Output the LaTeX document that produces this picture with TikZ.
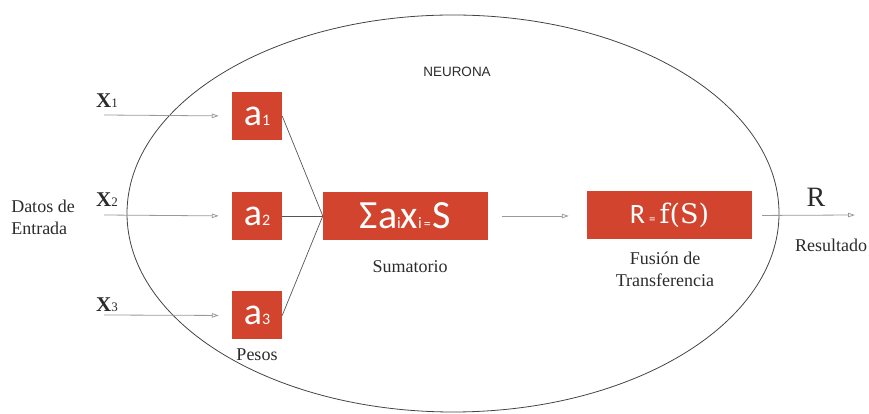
\documentclass[tikz,border=0pt]{standalone}
\usepackage{fontspec}
\setmainfont{Liberation Serif}
\newfontfamily\boxfont{Carlito}
\newfontfamily\labelsans{Liberation Sans}
\newfontfamily\fnfont{DejaVu Serif}
\usetikzlibrary{arrows.meta}

\definecolor{boxred}{HTML}{D2442E}
\definecolor{ink}{HTML}{2B2B2B}
\definecolor{wire}{HTML}{9A9A9A}
\definecolor{link}{HTML}{555555}
\definecolor{rim}{HTML}{444444}

\tikzset{
  redbox/.style={fill=boxred, text=white, inner sep=0pt, font=\boxfont},
  weightbox/.style={redbox, minimum width=50pt, minimum height=48pt},
  widebox/.style={redbox, minimum width=165pt, minimum height=48pt},
  caption/.style={text=ink, font=\fontsize{18}{22}\selectfont, inner sep=0pt},
  inarrow/.style={draw=wire, line width=0.8pt,
    -{Triangle[open, length=7pt, width=4.5pt]}},
  feed/.style={draw=link, line width=0.7pt}
}

\newcommand{\wsub}[1]{{\fontsize{16}{16}\selectfont #1}}
\newcommand{\xlab}[1]{{\bfseries\fontsize{21}{21}\selectfont X}{\fontsize{13}{13}\selectfont #1}}

\begin{document}
\begin{tikzpicture}[x=1pt, y=1pt]
  \useasboundingbox (0,0) rectangle (869,414);

  % cell body
  \draw[rim, line width=0.8pt] (453,200.5) ellipse [x radius=326, y radius=198.5];
  \node[text=ink, font=\labelsans\fontsize{13.5}{13.5}\selectfont] (neurona) at (457,342) {NEURONA};

  % weights
  \node[weightbox] (a1) at (257,298) {\fontsize{38}{38}\selectfont a\wsub{1}};
  \node[weightbox] (a2) at (257,198) {\fontsize{38}{38}\selectfont a\wsub{2}};
  \node[weightbox] (a3) at (257,98.5) {\fontsize{38}{38}\selectfont a\wsub{3}};
  \node[caption] (pesos) at (257,59) {Pesos};

  % summation and transfer
  \node[widebox] (sum) at (405.5,198)
    {\fontsize{40}{40}\selectfont Σa{\fontsize{16}{16}\selectfont i}x{\fontsize{16}{16}\selectfont i}\kern2pt{\fontsize{14}{14}\selectfont =}\kern2pt S};
  \node[caption] (sumlabel) at (410,147) {Sumatorio};

  \node[widebox] (trans) at (669.5,198.5)
    {\fontsize{28}{28}\selectfont R\kern4pt{\fontsize{13}{13}\selectfont =}\kern4pt{\fnfont\fontsize{27}{27}\selectfont f(S)}};
  \node[caption, align=center] (translabel) at (665,145) {Fusión de\\Transferencia};

  % inputs
  \coordinate (in1) at (104,299);
  \coordinate (in2) at (104,199);
  \coordinate (in3) at (104,99);
  \node[text=ink, inner sep=0pt] (x1) at (107,313) {\xlab{1}};
  \node[text=ink, inner sep=0pt] (x2) at (107,214) {\xlab{2}};
  \node[text=ink, inner sep=0pt] (x3) at (107,109) {\xlab{3}};
  \node[caption, align=left] (datos) at (43,196.5) {Datos de\\Entrada};

  \draw[inarrow, shorten >=13pt] (in1) -- (a1.west);
  \draw[inarrow, shorten >=13pt] (in2) -- (a2.west);
  \draw[inarrow, shorten >=13pt] (in3) -- (a3.west);

  % weighted inputs into the sum
  \draw[feed] (a1.east) -- (sum.west);
  \draw[feed] (a2.east) -- (sum.west);
  \draw[feed] (a3.east) -- (sum.west);

  % sum to transfer function
  \draw[inarrow, shorten <=14pt, shorten >=18pt] (sum.east) -- (trans.west |- sum.east);

  % output
  \coordinate (out) at (855,199);
  \draw[inarrow, shorten <=10pt] (trans.east) -- (out);
  \node[text=ink, inner sep=0pt, font=\fontsize{28}{28}\selectfont] (rout) at (816,217) {R};
  \node[caption] (resultado) at (831,169) {Resultado};
\end{tikzpicture}
\end{document}
